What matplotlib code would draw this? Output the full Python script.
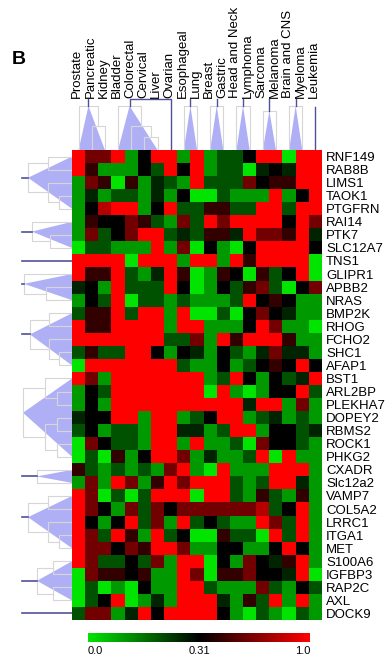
import matplotlib
matplotlib.use('Agg')
import matplotlib.pyplot as plt
import numpy as np
from matplotlib.colors import LinearSegmentedColormap, TwoSlopeNorm
from matplotlib.patches import Polygon

plt.rcParams['font.family'] = ['Liberation Sans', 'DejaVu Sans']

cancers = ['Prostate', 'Pancreatic', 'Kidney', 'Bladder', 'Colorectal', 'Cervical',
           'Liver', 'Ovarian', 'Esophageal', 'Lung', 'Breast', 'Gastric',
           'Head and Neck', 'Lymphoma', 'Sarcoma', 'Melanoma', 'Brain and CNS',
           'Myeloma', 'Leukemia']

genes = ['RNF149', 'RAB8B', 'LIMS1', 'TAOK1', 'PTGFRN', 'RAI14', 'PTK7', 'SLC12A7',
         'TNS1', 'GLIPR1', 'APBB2', 'NRAS', 'BMP2K', 'RHOG', 'FCHO2', 'SHC1',
         'AFAP1', 'BST1', 'ARL2BP', 'PLEKHA7', 'DOPEY2', 'RBMS2', 'ROCK1', 'PHKG2',
         'CXADR', 'Slc12a2', 'VAMP7', 'COL5A2', 'LRRC1', 'ITGA1', 'MET', 'S100A6',
         'IGFBP3', 'RAP2C', 'AXL', 'DOCK9']

# cell levels: G bright green ... k black ... R red
levels = {'G': 0.0, 'g': 0.1, 'd': 0.2, 'e': 0.26, 'k': 0.31,
          'n': 0.45, 'm': 0.62, 'r': 0.8, 'R': 1.0}
cells = [
    "RmmRgkRRgRgddkRRGRR",
    "RngggkdRkRgddGekeRR",
    "gmnGngedgRdddmknnRR",
    "gegddgegkGGdgggRgkR",
    "gkrRRgkRddnnddRRdRR",
    "gnkkmndgmdRmRRRRkRm",
    "gmdkmRRdednneRmmnRe",
    "GddgggRgmGkgGkRRRRk",
    "RRRRGRRRgRRgRnRRRRG",
    "RnnRdgeRnGgnkGndkRG",
    "ekgRdddRkGgkdnmdGkm",
    "gkdRGddgdgggdRknkgg",
    "dnnRdRRgRGGdGkmkegg",
    "RnnRRRRgRRgggkRmggG",
    "RRRRRRRddmgRnRRRngg",
    "dnddRRkgkegkdgemeeg",
    "GRRRRRRRdggkgdknkRk",
    "RmgRRRRRRRgdRkgkdeR",
    "gkdRRRRRRRGRgGgkkRd",
    "gkgRRRRRRRRRReRRgmg",
    "ekkRRgRRgdkRRgdegdg",
    "dkgddgRReegdRRgkkde",
    "GmkddgRRgRggdGmkkdg",
    "GdGngkRRmgeggdRGRgg",
    "ndgdgdgmRgGRgggRRRg",
    "gmgRmgnRmRRRdgdRReg",
    "RmGdGdRRRGRRdgndgng",
    "RmkgmdmkmmmmmmrdkRg",
    "RkgkRdmgRdkdggRmdRg",
    "RmdRngRdkGGnddGRdRg",
    "RmmkmnRRmggkkggkRkg",
    "RmddkdmgRRGkgmkenRg",
    "GmnnknggRmGnnmkkeRG",
    "GdGgGkggRRdgggmdgkd",
    "GdkRGgegRRRegndRgRg",
    "dmmgeRkRRRRkgGdgGdg",
]
values = np.array([[levels[c] for c in row] for row in cells])

# collapsed clusters: (first, last, dendrogram height)
row_clusters = [(0, 4, 44), (5, 7, 40), (8, 8, 0), (9, 11, 48), (12, 16, 42),
                (17, 23, 49), (24, 25, 35), (26, 30, 44), (31, 34, 35), (35, 35, 0)]
col_clusters = [(0, 2, 44), (3, 6, 44), (7, 7, 0), (8, 9, 44), (10, 11, 44),
                (12, 13, 44), (14, 15, 39), (16, 17, 44), (18, 18, 0)]

tri_color = '#a6a6f4'
dark = '#505096'
grey = '#d6d6d6'


def build(leaves, height, first_alone=False):
    if len(leaves) == 1:
        return leaves[0], 0, []
    half = 1 if first_alone else len(leaves) // 2
    p1, h1, s1 = build(leaves[:half], height * 0.55, first_alone)
    p2, h2, s2 = build(leaves[half:], height * 0.55, first_alone)
    seg = [(p1, h1), (p1, height), (p2, height), (p2, h2)]
    return (p1 + p2) / 2, height, s1 + s2 + [seg]


W, H = 385, 657
fig = plt.figure(figsize=(W / 100, H / 100), dpi=100)
hx0, hx1, hy0, hy1 = 72, 322, 150, 620
ax = fig.add_axes([hx0 / W, 1 - hy1 / H, (hx1 - hx0) / W, (hy1 - hy0) / H])
cmap = LinearSegmentedColormap.from_list('gkr', ['#00e400', '#000000', '#ff0000'])
norm = TwoSlopeNorm(vmin=0.0, vcenter=0.31, vmax=1.0)
im = ax.imshow(values, cmap=cmap, norm=norm, aspect='auto', interpolation='nearest')
ax.set_xticks([])
ax.set_yticks(range(len(genes)))
ax.set_yticklabels(genes, fontsize=9.5)
ax.yaxis.tick_right()
ax.tick_params(axis='y', length=0, pad=3)
for s in ax.spines.values():
    s.set_visible(False)

# left dendrogram
axl = fig.add_axes([0, 1 - hy1 / H, hx0 / W, (hy1 - hy0) / H])
axl.set_xlim(hx0, 0)
axl.set_ylim(len(genes) - 0.5, -0.5)
axl.axis('off')
top_depth = 50
for a, b, h in row_clusters:
    if a == b:
        axl.plot([0, top_depth], [a, a], color=dark, lw=1.2)
        continue
    pos, hh, segs = build(list(range(a, b + 1)), h)
    for seg in segs:
        axl.plot([p[1] for p in seg], [p[0] for p in seg], color=grey, lw=0.8)
    axl.add_patch(Polygon([(0, a), (h, pos), (0, b)], closed=True,
                          facecolor=tri_color, edgecolor='none', alpha=0.9))
    if top_depth - h > 1:
        axl.plot([h, top_depth], [pos, pos], color=dark, lw=1.2)

# top dendrogram
axt = fig.add_axes([hx0 / W, 1 - hy0 / H, (hx1 - hx0) / W, 55 / H])
axt.set_xlim(-0.5, len(cancers) - 0.5)
axt.set_ylim(0, 55)
axt.axis('off')
roots = {}
for a, b, h in col_clusters:
    if a == b:
        roots[a] = a
        continue
    pos, hh, segs = build(list(range(a, b + 1)), h, first_alone=True)
    roots[a] = pos
    for seg in segs:
        axt.plot([p[0] for p in seg], [p[1] for p in seg], color=grey, lw=0.8)
    axt.add_patch(Polygon([(a, 0), (pos, h), (b, 0)], closed=True,
                          facecolor=tri_color, edgecolor='none', alpha=0.9))
    if a != 3:
        axt.plot([pos, pos], [h, 51], color=dark, lw=1.0)
# Colorectal group joined with Ovarian, Leukemia on its own
axt.plot([roots[3], roots[3], 7, 7], [44, 51, 51, 0], color=dark, lw=1.0)
axt.plot([18, 18], [0, 43], color=dark, lw=1.0)
for i, name in enumerate(cancers):
    axt.text(i - 0.1, 52.5, name, rotation=90, ha='center', va='bottom',
             fontsize=9.5, clip_on=False)

# colour bar
cax = fig.add_axes([88 / W, 15 / H, 222 / W, 9 / H])
cb = fig.colorbar(im, cax=cax, orientation='horizontal', ticks=[0.0, 0.31, 1.0])
cb.outline.set_visible(False)
cb.set_ticklabels(['0.0', '0.31', '1.0'])
cb.ax.tick_params(length=0, pad=3, labelsize=8)
tl = cb.ax.get_xticklabels()
tl[0].set_ha('left')
tl[-1].set_ha('right')

fig.text(18.5 / W, 1 - 60 / H, 'B', fontsize=14, fontweight='bold',
         ha='center', va='center')

fig.savefig('out.png', dpi=100)
